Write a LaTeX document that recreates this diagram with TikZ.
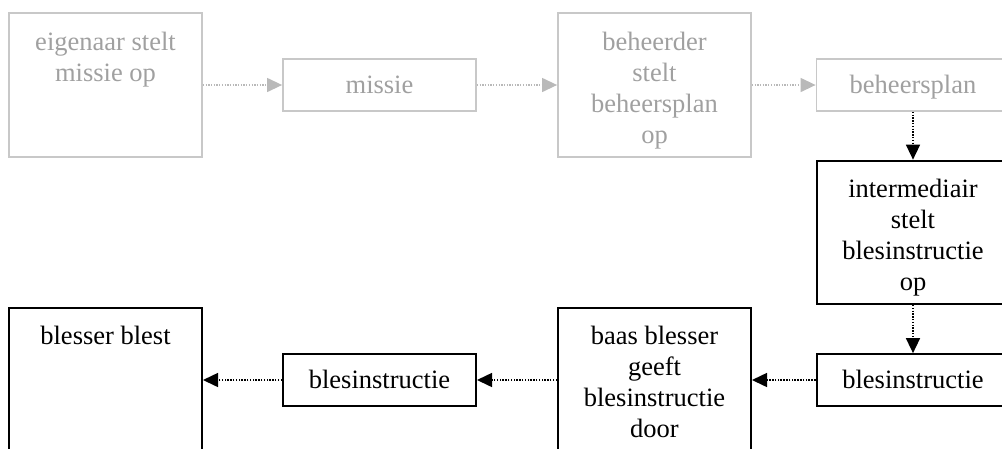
\documentclass[tikz,border=0pt]{standalone}
\usepackage{fontspec}
\setmainfont{Liberation Serif}
\usetikzlibrary{arrows.meta}
\definecolor{boxgray}{RGB}{200,200,200}
\definecolor{txtgray}{RGB}{160,160,160}
\definecolor{arrowgray}{RGB}{185,185,185}
\newcommand\boxtext[3]{\parbox[c][#1][t]{193pt}{\centering\rule{0pt}{#2}#3}}
\begin{document}
\begin{tikzpicture}[x=1pt,y=-1pt,
  font=\fontsize{26.5}{31}\selectfont,
  graybox/.style={draw=boxgray, line width=1.8pt, text=txtgray, inner sep=0pt},
  blackbox/.style={draw=black, line width=2pt, text=black, inner sep=0pt},
  grayarrow/.style={draw=arrowgray, line width=1.3pt, dash pattern=on 1.3pt off 1.4pt,
    -{Triangle[length=15pt,width=14pt,fill=arrowgray]}},
  blackarrow/.style={draw=black, line width=1.5pt, dash pattern=on 1.5pt off 1.3pt,
    -{Triangle[length=15pt,width=14pt,fill=black]}}]
\useasboundingbox (0,0) rectangle (1002,448);
\clip (0,0) rectangle (1002,448);
% top row
\node[graybox] (b1) at (105.5,85) {\boxtext{144.6pt}{37.3pt}{eigenaar stelt\\missie op}};
\node[graybox] (b2) at (379.5,85) {\boxtext{51.7pt}{34pt}{missie}};
\node[graybox] (b3) at (654.5,85) {\boxtext{144.6pt}{37.3pt}{beheerder\\stelt\\beheersplan\\op}};
\node[graybox] (b4) at (913,85) {\boxtext{51.7pt}{34pt}{beheersplan}};
% right column
\node[blackbox] (b5) at (913,232.3) {\boxtext{143.3pt}{37pt}{intermediair\\stelt\\blesinstructie\\op}};
\node[blackbox] (b6) at (913,380) {\boxtext{51.7pt}{34pt}{blesinstructie}};
% bottom row
\node[blackbox] (b7) at (654.5,380) {\boxtext{145pt}{37pt}{baas blesser\\geeft\\blesinstructie\\door}};
\node[blackbox] (b8) at (379.5,380) {\boxtext{51.7pt}{34pt}{blesinstructie}};
\node[blackbox] (b9) at (105.5,380) {\boxtext{145pt}{37pt}{blesser blest}};
% connectors
\draw[grayarrow] (b1.east) -- (b2.west);
\draw[grayarrow] (b2.east) -- (b3.west);
\draw[grayarrow] (b3.east) -- (b4.west);
\draw[blackarrow] (b4.south) -- (b5.north);
\draw[blackarrow] (b5.south) -- (b6.north);
\draw[blackarrow] (b6.west) -- (b7.east);
\draw[blackarrow] (b7.west) -- (b8.east);
\draw[blackarrow] (b8.west) -- (b9.east);
\end{tikzpicture}
\end{document}
